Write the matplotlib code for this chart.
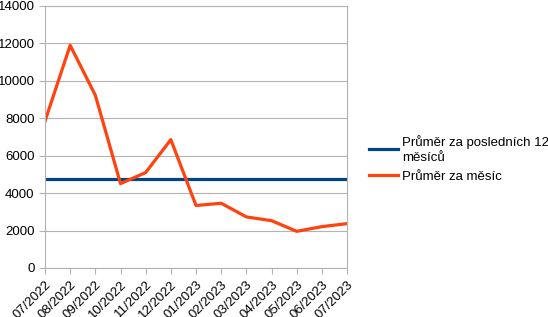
import matplotlib.pyplot as plt

plt.rcParams['font.family'] = ['Liberation Sans', 'DejaVu Sans']

months = ['07/2022', '08/2022', '09/2022', '10/2022', '11/2022', '12/2022', '01/2023',
          '02/2023', '03/2023', '04/2023', '05/2023', '06/2023', '07/2023']
monthly = [7850, 11900, 9230, 4510, 5100, 6860, 3340, 3460, 2730, 2530, 1960, 2210, 2370]
avg12 = [4730] * len(months)

fig = plt.figure(figsize=(5.48, 3.17), dpi=100)
ax = fig.add_axes([45 / 548, 1 - 268 / 317, 302 / 548, 262 / 317])

x = list(range(len(months)))
ax.plot(x, avg12, color='#004586', lw=2.3, label='Průměr za posledních 12\nměsíců')
ax.plot(x, monthly, color='#ff420e', lw=2.3, label='Průměr za měsíc')

ax.set_xlim(0, len(months) - 1)
ax.set_ylim(0, 14000)
ax.set_yticks(range(0, 14001, 2000))
ax.set_xticks(x)
ax.set_xticklabels(months, rotation=45, ha='right', rotation_mode='anchor')
ax.grid(axis='y', color='#b3b3b3', lw=0.8)
ax.set_axisbelow(True)
for s in ax.spines.values():
    s.set_color('#b3b3b3')
    s.set_linewidth(0.8)
ax.tick_params(colors='#b3b3b3', labelcolor='black', labelsize=9.5, length=4, width=0.8)

leg = fig.legend(loc='center left', bbox_to_anchor=(357 / 548, 1 - 159 / 317), frameon=False,
                 fontsize=9.5, handlelength=2.2, handletextpad=0.3, labelspacing=0.55)
for t in leg.get_texts():
    t.set_linespacing(1.3)

fig.savefig('out.png', dpi=100)
